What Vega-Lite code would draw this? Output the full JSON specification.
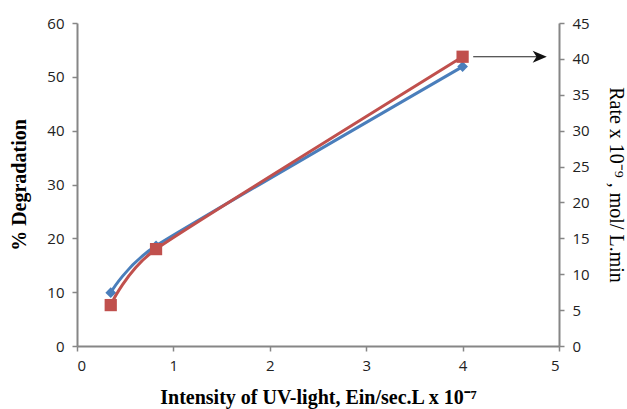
{
  "$schema": "https://vega.github.io/schema/vega-lite/v6.json",
  "width": 482,
  "height": 323,
  "autosize": {"type": "none"},
  "padding": {"left": 77, "top": 23, "right": 68, "bottom": 63},
  "background": "white",
  "config": {
    "view": {"stroke": null},
    "axis": {
      "grid": false,
      "domainColor": "#868686",
      "domainWidth": 2,
      "tickColor": "#868686",
      "tickWidth": 1.5,
      "tickSize": 5,
      "labelFont": "Open Sans",
      "labelFontSize": 15,
      "labelColor": "#222222",
      "titleColor": "#000000",
      "labelOverlap": false
    }
  },
  "datasets": {
    "deg": [
      {"intensity": 0.35, "degradation": 9.9},
      {"intensity": 0.82, "degradation": 18.6},
      {"intensity": 4.0, "degradation": 51.9}
    ],
    "rate": [
      {"intensity": 0.35, "rate": 5.7},
      {"intensity": 0.82, "rate": 13.5},
      {"intensity": 4.0, "rate": 40.3}
    ],
    "arrow": [
      {"x1": 4.11, "x2": 4.84, "rate": 40.3, "tip": 4.8}
    ]
  },
  "layer": [
    {
      "data": {"name": "deg"},
      "encoding": {
        "x": {
          "field": "intensity", "type": "quantitative",
          "scale": {"domain": [0, 5], "nice": false},
          "axis": {
            "values": [0, 1, 2, 3, 4, 5],
            "format": "d",
            "title": "Intensity of UV-light, Ein/sec.L x 10⁻⁷",
            "titleFont": "Liberation Serif", "titleFontSize": 20, "titleFontWeight": "bold",
            "titlePadding": 14, "labelPadding": 7
          }
        },
        "y": {
          "field": "degradation", "type": "quantitative",
          "scale": {"domain": [0, 60], "nice": false},
          "axis": {
            "orient": "left",
            "values": [0, 10, 20, 30, 40, 50, 60],
            "title": "% Degradation",
            "titleFont": "Liberation Serif", "titleFontSize": 20, "titleFontWeight": "bold",
            "titlePadding": 17, "labelPadding": 8
          }
        }
      },
      "layer": [
        {"mark": {"type": "line", "interpolate": "cardinal", "tension": 0.5, "color": "#4A7EBB", "strokeWidth": 3}},
        {"mark": {"type": "point", "shape": "diamond", "filled": true, "opacity": 1, "color": "#4A7EBB", "size": 115}}
      ]
    },
    {
      "encoding": {
        "y": {
          "field": "rate", "type": "quantitative",
          "scale": {"domain": [0, 45], "nice": false},
          "axis": {
            "orient": "right",
            "values": [0, 5, 10, 15, 20, 25, 30, 35, 40, 45],
            "title": "Rate x 10⁻⁹ , mol/ L.min",
            "titleFont": "Liberation Serif", "titleFontSize": 20, "titleFontWeight": "normal",
            "titleAngle": 90, "titlePadding": 16, "labelPadding": 8
          }
        }
      },
      "layer": [
        {
          "data": {"name": "rate"},
          "mark": {"type": "line", "interpolate": "cardinal", "tension": 0.5, "color": "#C0504D", "strokeWidth": 3},
          "encoding": {
            "x": {"field": "intensity", "type": "quantitative", "scale": {"domain": [0, 5], "nice": false}}
          }
        },
        {
          "data": {"name": "rate"},
          "mark": {"type": "point", "shape": "square", "filled": true, "opacity": 1, "color": "#C0504D", "size": 150},
          "encoding": {
            "x": {"field": "intensity", "type": "quantitative"}
          }
        },
        {
          "data": {"name": "arrow"},
          "mark": {"type": "rule", "color": "#222222", "strokeWidth": 1.2},
          "encoding": {
            "x": {"field": "x1", "type": "quantitative"},
            "x2": {"field": "x2"}
          }
        },
        {
          "data": {"name": "arrow"},
          "mark": {"type": "point", "shape": "M-1,-0.85L1,0L-1,0.85L-0.45,0Z", "filled": true, "opacity": 1, "color": "#111111", "size": 200},
          "encoding": {
            "x": {"field": "tip", "type": "quantitative"}
          }
        }
      ]
    }
  ],
  "resolve": {"scale": {"y": "independent"}, "axis": {"y": "independent"}}
}
